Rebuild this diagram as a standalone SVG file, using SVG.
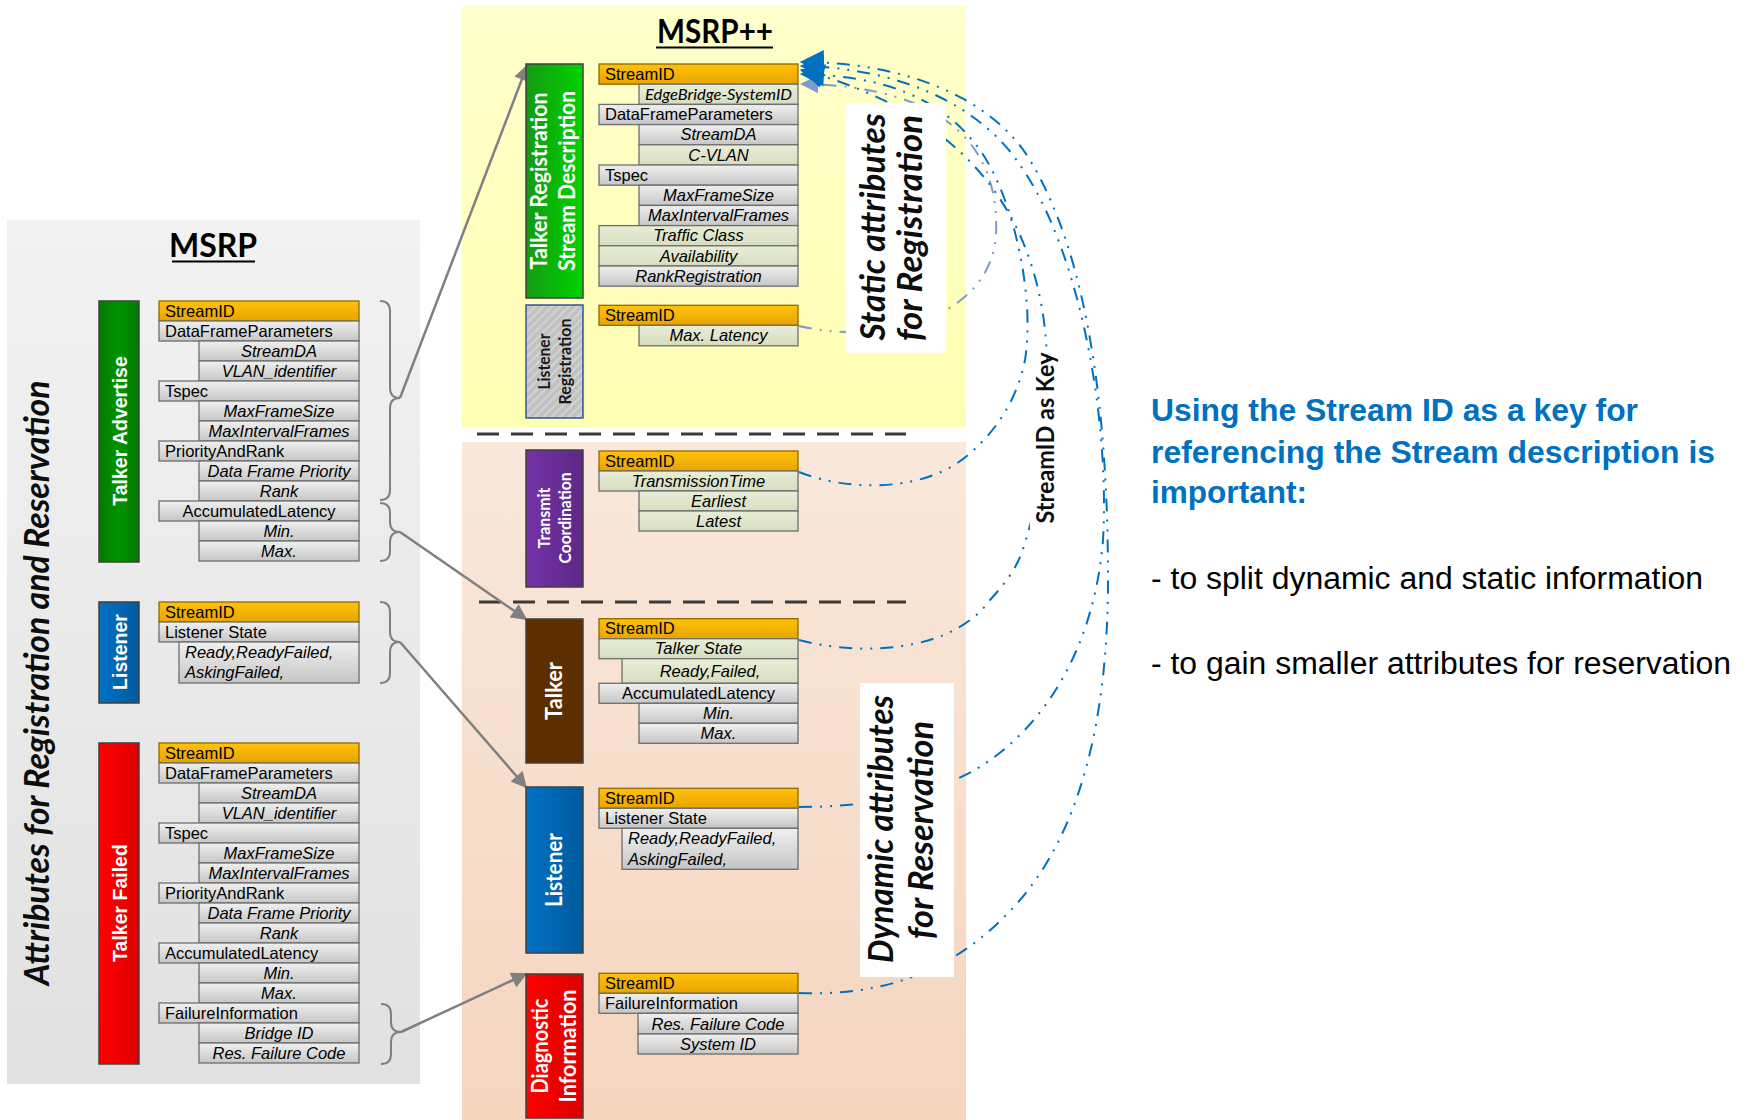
<svg xmlns="http://www.w3.org/2000/svg" width="1752" height="1120" viewBox="0 0 1752 1120">
<defs>
<linearGradient id="gPanelL" x1="0" y1="0" x2="0" y2="1"><stop offset="0" stop-color="#f2f2f2"/><stop offset="1" stop-color="#e1e1e1"/></linearGradient>
<linearGradient id="gPanelY" x1="0" y1="0" x2="0" y2="1"><stop offset="0" stop-color="#ffffcc"/><stop offset="1" stop-color="#ffffb4"/></linearGradient>
<linearGradient id="gPanelP" x1="0" y1="0" x2="0" y2="1"><stop offset="0" stop-color="#f9e8dc"/><stop offset="1" stop-color="#f5d5be"/></linearGradient>
<linearGradient id="gOrange" x1="0" y1="0" x2="0" y2="1"><stop offset="0" stop-color="#ffc20a"/><stop offset="1" stop-color="#e8a400"/></linearGradient>
<linearGradient id="gGrey" x1="0" y1="0" x2="0" y2="1"><stop offset="0" stop-color="#f0f0f0"/><stop offset="1" stop-color="#c6c6c6"/></linearGradient>
<linearGradient id="gGreen" x1="0" y1="0" x2="0" y2="1"><stop offset="0" stop-color="#e9eed9"/><stop offset="1" stop-color="#d6ddbe"/></linearGradient>
<linearGradient id="gTA" x1="0" y1="0" x2="1" y2="0"><stop offset="0" stop-color="#007a00"/><stop offset="0.5" stop-color="#009400"/><stop offset="1" stop-color="#007a00"/></linearGradient>
<linearGradient id="gBlue" x1="0" y1="0" x2="1" y2="0"><stop offset="0" stop-color="#0072c4"/><stop offset="1" stop-color="#005a9e"/></linearGradient>
<linearGradient id="gRed" x1="0" y1="0" x2="1" y2="0"><stop offset="0" stop-color="#ff0000"/><stop offset="1" stop-color="#dc0000"/></linearGradient>
<linearGradient id="gTR" x1="0" y1="0" x2="1" y2="0"><stop offset="0" stop-color="#139a13"/><stop offset="1" stop-color="#00d400"/></linearGradient>
<linearGradient id="gPurple" x1="0" y1="0" x2="1" y2="0"><stop offset="0" stop-color="#7532a8"/><stop offset="1" stop-color="#5c2886"/></linearGradient>
<pattern id="hatch" width="6" height="6" patternUnits="userSpaceOnUse" patternTransform="rotate(45)"><rect width="6" height="6" fill="#c2c2c2"/><line x1="1" y1="0" x2="1" y2="6" stroke="#d9d9d9" stroke-width="1.5"/></pattern>
<marker id="ag" viewBox="0 0 10 10" refX="9" refY="5" markerWidth="20" markerHeight="16" markerUnits="userSpaceOnUse" orient="auto"><path d="M0,0 L10,5 L0,10 z" fill="#808080"/></marker>
<marker id="ab" viewBox="0 0 10 10" refX="9.5" refY="5" markerWidth="27" markerHeight="24" markerUnits="userSpaceOnUse" orient="auto"><path d="M0,0 L10,5 L0,10 z" fill="#0070c0"/></marker>
<marker id="al" viewBox="0 0 10 10" refX="9.5" refY="5" markerWidth="27" markerHeight="18" markerUnits="userSpaceOnUse" orient="auto"><path d="M0,0 L10,5 L0,10 z" fill="#7f9acb"/></marker>
</defs>
<style>
.o{fill:url(#gOrange);stroke:#8c6a00;stroke-width:1.3}
.g{fill:url(#gGrey);stroke:#6e6e6e;stroke-width:1.3}
.n{fill:url(#gGreen);stroke:#6e6e6e;stroke-width:1.3}
.t{font-family:"Liberation Sans",Arial,sans-serif;font-size:16.5px;fill:#000}
.i{font-style:italic;text-anchor:middle}
.c{text-anchor:middle}
.il{font-style:italic}
.bl{font-family:"Liberation Sans",Arial,sans-serif;font-weight:bold;font-size:19.5px;fill:#fff;text-anchor:middle}
.cb{font-family:Lato,"Open Sans",sans-serif;font-weight:bold;fill:#fff;text-anchor:middle}
.big{font-family:Lato,"Open Sans",sans-serif;font-weight:bold;font-style:italic;font-size:34px;fill:#0d0d0d;text-anchor:middle}
.ttl{font-family:Lato,"Open Sans",sans-serif;font-weight:bold;font-size:32px;fill:#000;text-anchor:middle}
.bar{stroke:#404040;stroke-width:1.5}
.brace{fill:none;stroke:#808080;stroke-width:2}
.ga{stroke:#808080;stroke-width:2.5;fill:none;marker-end:url(#ag)}
.bc{fill:none;stroke:#0070c0;stroke-width:2;stroke-dasharray:13 8 2 8 2 8;marker-end:url(#ab)}
.lc{fill:none;stroke:#7f9acb;stroke-width:2;stroke-dasharray:13 8 2 8 2 8;marker-end:url(#al)}
.dash{stroke:#3a3a3a;stroke-width:3;stroke-dasharray:22 12}
.rt{font-family:"Liberation Sans",Arial,sans-serif;font-size:31px}
</style>
<rect width="1752" height="1120" fill="#ffffff"/>
<g id="panels">
<rect x="7" y="220" width="413" height="864" fill="url(#gPanelL)"/>
<rect x="462" y="6" width="504" height="421" fill="url(#gPanelY)"/>
<rect x="462" y="442" width="504" height="678" fill="url(#gPanelP)"/>
<line class="dash" x1="477" y1="434" x2="906" y2="434"/>
<line class="dash" x1="479" y1="602" x2="906" y2="602"/>
</g>
<g id="titles">
<text class="ttl" x="213" y="257">MSRP</text>
<line x1="172" y1="261.5" x2="255" y2="261.5" stroke="#000" stroke-width="2.2"/>
<text class="ttl" x="715" y="43" textLength="116" lengthAdjust="spacingAndGlyphs">MSRP++</text>
<line x1="656" y1="47.5" x2="773" y2="47.5" stroke="#000" stroke-width="2.2"/>
<text class="big" transform="translate(49,683) rotate(-90)" font-size="33" textLength="605" lengthAdjust="spacingAndGlyphs">Attributes for Registration and Reservation</text>
</g>
<g id="connectors">
<path class="brace" d="M380,301 Q390,301 390,311 L390,388 Q390,398 400,398 Q390,398 390,408 L390,490 Q390,500 380,500"/>
<path class="brace" d="M380,503 Q390,503 390,513 L390,522 Q390,532 400,532 Q390,532 390,542 L390,551 Q390,561 380,561"/>
<path class="brace" d="M380,602 Q390,602 390,612 L390,632 Q390,642 400,642 Q390,642 390,652 L390,673 Q390,683 380,683"/>
<path class="brace" d="M381,1004 Q391,1004 391,1014 L391,1022 Q391,1032 401,1032 Q391,1032 391,1042 L391,1054 Q391,1064 381,1064"/>
<line class="ga" x1="400" y1="398" x2="527" y2="66"/>
<line class="ga" x1="400" y1="532" x2="526" y2="619"/>
<line class="ga" x1="400" y1="642" x2="526" y2="787"/>
<line class="ga" x1="401" y1="1032" x2="526" y2="974"/>
<path class="lc" d="M799,326 C880,345 990,320 996,235 C1000,150 950,86 801,84"/>
<path class="bc" d="M799,472 C850,492 925,492 968,455 C1000,428 1018,395 1025,360 C1035,300 1015,200 980,150 C940,95 880,76 801,74"/>
<path class="bc" d="M799,640 C855,655 950,655 990,600 C1010,578 1018,565 1024,546 C1045,480 1052,400 1045,330 C1035,240 990,120 801,70"/>
<path class="bc" d="M799,807 C870,807 930,795 975,770 C1050,725 1095,640 1103,540 C1110,420 1080,250 1020,165 C980,105 900,68 801,66"/>
<path class="bc" d="M799,993 C880,996 955,975 1020,900 C1080,830 1108,720 1108,580 C1108,420 1090,260 1030,160 C990,95 900,62 801,62"/>
</g>
<g id="label-static">
<rect x="846" y="103" width="100" height="250" fill="#ffffff"/>
<text class="big" transform="translate(885,227) rotate(-90)" textLength="227" lengthAdjust="spacingAndGlyphs">Static attributes</text>
<text class="big" transform="translate(922,228) rotate(-90)" textLength="226" lengthAdjust="spacingAndGlyphs">for Registration</text>
</g>
<g id="label-dynamic">
<rect x="860" y="683" width="94" height="294" fill="#ffffff"/>
<text class="big" transform="translate(893,829) rotate(-90)" textLength="268" lengthAdjust="spacingAndGlyphs">Dynamic attributes</text>
<text class="big" transform="translate(933,830) rotate(-90)" textLength="218" lengthAdjust="spacingAndGlyphs">for Reservation</text>
</g>
<g id="label-key">
<rect x="1030" y="362" width="34" height="184" fill="#ffffff"/>
<text class="cb" transform="translate(1054,438) rotate(-90)" font-size="24" style="fill:#0d0d0d" textLength="171" lengthAdjust="spacingAndGlyphs">StreamID as Key</text>
</g>
<g id="msrp-talker-advertise">
<rect class="bar" x="99" y="301" width="40" height="261" fill="url(#gTA)"/>
<text class="bl" transform="translate(127,431) rotate(-90)">Talker Advertise</text>
<rect class="o" x="159" y="301" width="200" height="20"/><text class="t" x="165" y="316.5">StreamID</text>
<rect class="g" x="159" y="321" width="200" height="20"/><text class="t" x="165" y="336.5">DataFrameParameters</text>
<rect class="g" x="199" y="341" width="160" height="20"/><text class="t i" x="279" y="356.5">StreamDA</text>
<rect class="g" x="199" y="361" width="160" height="20"/><text class="t i" x="279" y="376.5">VLAN_identifier</text>
<rect class="g" x="159" y="381" width="200" height="20"/><text class="t" x="165" y="396.5">Tspec</text>
<rect class="g" x="199" y="401" width="160" height="20"/><text class="t i" x="279" y="416.5">MaxFrameSize</text>
<rect class="g" x="199" y="421" width="160" height="20"/><text class="t i" x="279" y="436.5">MaxIntervalFrames</text>
<rect class="g" x="159" y="441" width="200" height="20"/><text class="t" x="165" y="456.5">PriorityAndRank</text>
<rect class="g" x="199" y="461" width="160" height="20"/><text class="t i" x="279" y="476.5">Data Frame Priority</text>
<rect class="g" x="199" y="481" width="160" height="20"/><text class="t i" x="279" y="496.5">Rank</text>
<rect class="g" x="159" y="501" width="200" height="20"/><text class="t c" x="259" y="516.5">AccumulatedLatency</text>
<rect class="g" x="199" y="521" width="160" height="20"/><text class="t i" x="279" y="536.5">Min.</text>
<rect class="g" x="199" y="541" width="160" height="20"/><text class="t i" x="279" y="556.5">Max.</text>
</g>
<g id="msrp-listener">
<rect class="bar" x="99" y="602" width="40" height="101" fill="url(#gBlue)"/>
<text class="bl" transform="translate(127,652) rotate(-90)">Listener</text>
<rect class="o" x="159" y="602" width="200" height="20"/><text class="t" x="165" y="617.5">StreamID</text>
<rect class="g" x="159" y="622" width="200" height="20"/><text class="t" x="165" y="637.5">Listener State</text>
<rect class="g" x="179" y="642" width="180" height="41"/><text class="t il" x="185" y="658">Ready,ReadyFailed,</text><text class="t il" x="185" y="678">AskingFailed,</text>
</g>
<g id="msrp-talker-failed">
<rect class="bar" x="99" y="743" width="40" height="321" fill="url(#gRed)"/>
<text class="bl" transform="translate(127,903) rotate(-90)">Talker Failed</text>
<rect class="o" x="159" y="743" width="200" height="20"/><text class="t" x="165" y="758.5">StreamID</text>
<rect class="g" x="159" y="763" width="200" height="20"/><text class="t" x="165" y="778.5">DataFrameParameters</text>
<rect class="g" x="199" y="783" width="160" height="20"/><text class="t i" x="279" y="798.5">StreamDA</text>
<rect class="g" x="199" y="803" width="160" height="20"/><text class="t i" x="279" y="818.5">VLAN_identifier</text>
<rect class="g" x="159" y="823" width="200" height="20"/><text class="t" x="165" y="838.5">Tspec</text>
<rect class="g" x="199" y="843" width="160" height="20"/><text class="t i" x="279" y="858.5">MaxFrameSize</text>
<rect class="g" x="199" y="863" width="160" height="20"/><text class="t i" x="279" y="878.5">MaxIntervalFrames</text>
<rect class="g" x="159" y="883" width="200" height="20"/><text class="t" x="165" y="898.5">PriorityAndRank</text>
<rect class="g" x="199" y="903" width="160" height="20"/><text class="t i" x="279" y="918.5">Data Frame Priority</text>
<rect class="g" x="199" y="923" width="160" height="20"/><text class="t i" x="279" y="938.5">Rank</text>
<rect class="g" x="159" y="943" width="200" height="20"/><text class="t" x="165" y="958.5">AccumulatedLatency</text>
<rect class="g" x="199" y="963" width="160" height="20"/><text class="t i" x="279" y="978.5">Min.</text>
<rect class="g" x="199" y="983" width="160" height="20"/><text class="t i" x="279" y="998.5">Max.</text>
<rect class="g" x="159" y="1003" width="200" height="20"/><text class="t" x="165" y="1018.5">FailureInformation</text>
<rect class="g" x="199" y="1023" width="160" height="20"/><text class="t i" x="279" y="1038.5">Bridge ID</text>
<rect class="g" x="199" y="1043" width="160" height="20"/><text class="t i" x="279" y="1058.5">Res. Failure Code</text>
</g>
<g id="pp-talker-registration">
<rect class="bar" x="526" y="64" width="57" height="234" fill="url(#gTR)"/>
<text class="cb" transform="translate(547,181) rotate(-90)" font-size="22" textLength="177" lengthAdjust="spacingAndGlyphs">Talker Registration</text>
<text class="cb" transform="translate(575,181) rotate(-90)" font-size="22" textLength="180" lengthAdjust="spacingAndGlyphs">Stream Description</text>
<rect class="o" x="599" y="64" width="199" height="20.2"/><text class="t" x="605" y="79.8">StreamID</text>
<rect class="n" x="639" y="84.2" width="159" height="20.2"/><text x="718.5" y="100" font-family="Lato, 'Open Sans', sans-serif" font-style="italic" font-size="15" text-anchor="middle" textLength="147" lengthAdjust="spacingAndGlyphs">EdgeBridge-SystemID</text>
<rect class="g" x="599" y="104.4" width="199" height="20.2"/><text class="t" x="605" y="120.2">DataFrameParameters</text>
<rect class="g" x="639" y="124.6" width="159" height="20.2"/><text class="t i" x="718.5" y="140.4">StreamDA</text>
<rect class="n" x="639" y="144.8" width="159" height="20.2"/><text class="t i" x="718.5" y="160.6">C-VLAN</text>
<rect class="g" x="599" y="165" width="199" height="20.2"/><text class="t" x="605" y="180.8">Tspec</text>
<rect class="g" x="639" y="185.2" width="159" height="20.2"/><text class="t i" x="718.5" y="201">MaxFrameSize</text>
<rect class="g" x="639" y="205.4" width="159" height="20.2"/><text class="t i" x="718.5" y="221.2">MaxIntervalFrames</text>
<rect class="n" x="599" y="225.6" width="199" height="20.2"/><text class="t i" x="698.5" y="241.4">Traffic Class</text>
<rect class="n" x="599" y="245.8" width="199" height="20.2"/><text class="t i" x="698.5" y="261.6">Availability</text>
<rect class="g" x="599" y="266" width="199" height="20.2"/><text class="t i" x="698.5" y="281.8">RankRegistration</text>
</g>
<g id="pp-listener-registration">
<rect x="526" y="305" width="57" height="113" fill="url(#hatch)" stroke="#2f5597" stroke-width="1.5"/>
<text class="cb" transform="translate(550,361.5) rotate(-90)" font-size="17" style="fill:#1a1a1a" textLength="56" lengthAdjust="spacingAndGlyphs">Listener</text>
<text class="cb" transform="translate(571,361.5) rotate(-90)" font-size="17" style="fill:#1a1a1a" textLength="86" lengthAdjust="spacingAndGlyphs">Registration</text>
<rect class="o" x="599" y="305.3" width="199" height="20"/><text class="t" x="605" y="321">StreamID</text>
<rect class="n" x="639" y="325.3" width="159" height="20.5"/><text class="t i" x="718.5" y="341">Max. Latency</text>
</g>
<g id="pp-transmit-coordination">
<rect class="bar" x="526" y="450" width="57" height="137" fill="url(#gPurple)"/>
<text class="cb" transform="translate(550,518) rotate(-90)" font-size="17" textLength="61" lengthAdjust="spacingAndGlyphs">Transmit</text>
<text class="cb" transform="translate(571,518) rotate(-90)" font-size="17" textLength="91" lengthAdjust="spacingAndGlyphs">Coordination</text>
<rect class="o" x="599" y="451" width="199" height="20"/><text class="t" x="605" y="466.5">StreamID</text>
<rect class="n" x="599" y="471" width="199" height="20"/><text class="t i" x="698.5" y="486.5">TransmissionTime</text>
<rect class="n" x="639" y="491" width="159" height="20"/><text class="t i" x="718.5" y="506.5">Earliest</text>
<rect class="n" x="639" y="511" width="159" height="20"/><text class="t i" x="718.5" y="526.5">Latest</text>
</g>
<g id="pp-talker">
<rect class="bar" x="526" y="619" width="57" height="144" fill="#5c2e00"/>
<text class="cb" transform="translate(562,691) rotate(-90)" font-size="22" textLength="58" lengthAdjust="spacingAndGlyphs">Talker</text>
<rect class="o" x="599" y="618.7" width="199" height="20"/><text class="t" x="605" y="634.2">StreamID</text>
<rect class="n" x="599" y="638.7" width="199" height="20"/><text class="t i" x="698.5" y="654.2">Talker State</text>
<rect class="n" x="622" y="658.7" width="176" height="24.6"/><text class="t i" x="710" y="676.5">Ready,Failed,</text>
<rect class="g" x="599" y="683.3" width="199" height="20"/><text class="t c" x="698.5" y="698.8">AccumulatedLatency</text>
<rect class="g" x="639" y="703.3" width="159" height="20"/><text class="t i" x="718.5" y="718.8">Min.</text>
<rect class="g" x="639" y="723.3" width="159" height="20"/><text class="t i" x="718.5" y="738.8">Max.</text>
</g>
<g id="pp-listener">
<rect class="bar" x="526" y="787" width="57" height="166" fill="url(#gBlue)"/>
<text class="cb" transform="translate(562,870) rotate(-90)" font-size="22" textLength="74" lengthAdjust="spacingAndGlyphs">Listener</text>
<rect class="o" x="599" y="788.3" width="199" height="20"/><text class="t" x="605" y="803.8">StreamID</text>
<rect class="g" x="599" y="808.3" width="199" height="20"/><text class="t" x="605" y="823.8">Listener State</text>
<rect class="g" x="622" y="828.3" width="176" height="41"/><text class="t il" x="628" y="844">Ready,ReadyFailed,</text><text class="t il" x="628" y="864.5">AskingFailed,</text>
</g>
<g id="pp-diagnostic">
<rect class="bar" x="526" y="974" width="57" height="144" fill="url(#gRed)"/>
<text class="cb" transform="translate(548,1046) rotate(-90)" font-size="22" textLength="95" lengthAdjust="spacingAndGlyphs">Diagnostic</text>
<text class="cb" transform="translate(576,1046) rotate(-90)" font-size="22" textLength="113" lengthAdjust="spacingAndGlyphs">Information</text>
<rect class="o" x="599" y="973.3" width="199" height="20"/><text class="t" x="605" y="988.8">StreamID</text>
<rect class="g" x="599" y="993.3" width="199" height="20"/><text class="t" x="605" y="1008.8">FailureInformation</text>
<rect class="g" x="638" y="1013.3" width="160" height="20.7"/><text class="t i" x="718" y="1029.5">Res. Failure Code</text>
<rect class="g" x="638" y="1034" width="160" height="20"/><text class="t i" x="718" y="1049.5">System ID</text>
</g>
<g id="notes">
<text class="rt" x="1151" y="421" font-weight="bold" fill="#0070c0" textLength="487" lengthAdjust="spacingAndGlyphs">Using the Stream ID as a key for</text>
<text class="rt" x="1151" y="463" font-weight="bold" fill="#0070c0" textLength="564" lengthAdjust="spacingAndGlyphs">referencing the Stream description is</text>
<text class="rt" x="1151" y="503" font-weight="bold" fill="#0070c0" textLength="156" lengthAdjust="spacingAndGlyphs">important:</text>
<text class="rt" x="1151" y="589" fill="#000" textLength="552" lengthAdjust="spacingAndGlyphs">- to split dynamic and static information</text>
<text class="rt" x="1151" y="674" fill="#000" textLength="580" lengthAdjust="spacingAndGlyphs">- to gain smaller attributes for reservation</text>
</g>
</svg>
